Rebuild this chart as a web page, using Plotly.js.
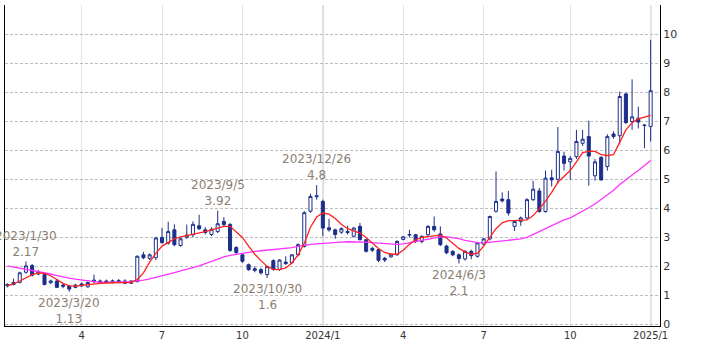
<!DOCTYPE html>
<html>
<head>
<meta charset="utf-8">
<script src="https://cdn.plot.ly/plotly-3.0.1.min.js"></script>
<style>html,body{margin:0;padding:0;background:#fff;}#chart{width:709px;height:354px;}</style>
</head>
<body>
<div id="chart"></div>
<script>
const dates = ["2023-01-09","2023-01-16","2023-01-23","2023-01-30","2023-02-06","2023-02-13","2023-02-20","2023-02-27","2023-03-06","2023-03-13","2023-03-20","2023-03-27","2023-04-03","2023-04-10","2023-04-17","2023-04-24","2023-05-01","2023-05-08","2023-05-15","2023-05-22","2023-05-29","2023-06-05","2023-06-12","2023-06-19","2023-06-26","2023-07-03","2023-07-10","2023-07-17","2023-07-24","2023-07-31","2023-08-07","2023-08-14","2023-08-21","2023-08-28","2023-09-04","2023-09-11","2023-09-18","2023-09-25","2023-10-02","2023-10-09","2023-10-16","2023-10-23","2023-10-30","2023-11-06","2023-11-13","2023-11-20","2023-11-27","2023-12-04","2023-12-11","2023-12-18","2023-12-25",
"2024-01-01","2024-01-08","2024-01-15","2024-01-22","2024-01-29","2024-02-05","2024-02-12","2024-02-19","2024-02-26","2024-03-04","2024-03-11","2024-03-18","2024-03-25","2024-04-01","2024-04-08","2024-04-15","2024-04-22","2024-04-29","2024-05-06","2024-05-13","2024-05-20","2024-05-27","2024-06-03","2024-06-10","2024-06-17","2024-06-24","2024-07-01","2024-07-08","2024-07-15","2024-07-22","2024-07-29","2024-08-05","2024-08-12","2024-08-19","2024-08-26","2024-09-02","2024-09-09","2024-09-16","2024-09-23","2024-09-30","2024-10-07","2024-10-14","2024-10-21","2024-10-28","2024-11-04","2024-11-11","2024-11-18","2024-11-25","2024-12-02","2024-12-09","2024-12-16","2024-12-23","2024-12-30","2025-01-06"];

const openP = [1.33,1.38,1.45,1.80,2.03,1.74,1.72,1.44,1.50,1.36,1.33,1.28,1.40,1.30,1.47,1.45,1.50,1.46,1.47,1.50,1.42,1.48,2.40,2.28,2.30,3.00,2.80,3.26,2.72,3.00,3.09,3.40,3.26,3.10,3.20,3.55,3.44,2.65,2.40,2.06,1.92,1.89,1.72,2.20,1.90,2.15,2.13,2.40,2.69,3.90,4.40,
4.24,3.33,3.26,3.18,3.20,3.04,3.38,2.92,2.62,2.58,2.28,2.33,2.40,2.93,3.08,3.09,2.86,3.09,3.38,3.12,2.70,2.52,2.40,2.26,2.52,2.35,2.77,2.95,3.90,4.32,4.30,3.38,3.55,3.67,4.30,4.60,3.89,5.05,5.00,5.80,5.60,5.78,6.24,6.47,5.12,5.75,5.44,6.56,6.50,7.94,6.99,7.10,6.87,6.82];

const highP = [1.42,1.58,1.82,2.17,2.08,1.88,1.78,1.55,1.55,1.40,1.36,1.40,1.45,1.48,1.72,1.55,1.55,1.55,1.57,1.56,1.52,2.38,2.50,2.45,3.02,3.33,3.54,3.45,3.00,3.44,3.55,3.78,3.35,3.35,3.92,3.70,3.50,2.70,2.45,2.10,2.00,1.95,2.02,2.25,2.25,2.35,2.42,2.80,3.90,4.50,4.80,
4.30,3.64,3.30,3.35,3.40,3.36,3.50,2.95,2.68,2.60,2.33,2.45,2.90,3.05,3.26,3.12,3.06,3.42,3.72,3.38,2.75,2.56,2.45,2.56,2.58,2.85,2.98,3.75,5.27,4.55,4.60,3.60,3.72,4.35,4.95,4.70,5.30,5.33,6.80,5.95,5.80,6.70,6.70,7.02,5.70,5.80,6.55,6.65,8.02,7.98,8.44,7.50,6.90,9.80];

const lowP = [1.28,1.35,1.42,1.75,1.65,1.70,1.35,1.40,1.26,1.25,1.13,1.25,1.30,1.27,1.42,1.40,1.42,1.42,1.43,1.40,1.40,1.45,2.25,2.22,2.22,2.78,2.75,2.70,2.68,2.95,3.00,3.25,3.10,3.05,3.15,3.35,2.50,2.42,2.12,1.85,1.80,1.72,1.60,1.85,1.85,2.05,2.10,2.35,2.65,3.85,4.30,
3.04,3.20,2.95,3.12,3.10,3.00,2.90,2.48,2.50,2.15,2.15,2.30,2.38,2.90,3.00,2.80,2.80,3.05,3.20,2.70,2.42,2.35,2.10,2.20,2.25,2.30,2.73,2.90,3.85,4.20,3.75,3.22,3.40,3.62,4.25,3.85,3.85,4.75,4.85,5.30,4.98,5.70,6.15,4.78,4.95,4.95,5.30,6.40,6.20,6.90,6.70,6.75,6.07,6.30];

const closeP = [1.38,1.45,1.78,2.02,1.70,1.82,1.38,1.50,1.28,1.32,1.22,1.36,1.33,1.45,1.53,1.50,1.46,1.50,1.51,1.42,1.50,2.35,2.30,2.40,2.98,2.82,3.20,2.75,2.95,3.08,3.45,3.30,3.17,3.28,3.47,3.44,2.55,2.48,2.18,1.89,1.87,1.78,2.00,1.90,2.22,2.10,2.40,2.75,3.85,4.41,4.43,
3.32,3.26,3.10,3.30,3.17,3.32,2.92,2.52,2.56,2.21,2.22,2.42,2.86,3.02,3.10,2.86,3.04,3.38,3.26,2.75,2.47,2.40,2.27,2.52,2.37,2.81,2.95,3.72,4.24,4.26,3.84,3.55,3.67,4.30,4.66,3.89,5.04,4.98,5.96,5.55,5.72,6.30,6.38,5.80,5.60,4.98,6.47,6.47,7.85,6.95,7.15,6.97,6.85,8.05];

const ma13 = [1.33,1.40,1.50,1.62,1.72,1.78,1.76,1.68,1.55,1.42,1.33,1.32,1.35,1.38,1.40,1.42,1.43,1.44,1.44,1.44,1.45,1.55,1.78,2.15,2.45,2.70,2.84,2.95,3.02,3.06,3.10,3.16,3.20,3.26,3.32,3.38,3.38,3.20,3.00,2.70,2.42,2.20,2.00,1.90,1.89,1.95,2.12,2.40,2.80,3.35,3.70,
3.84,3.80,3.65,3.45,3.30,3.22,3.15,3.00,2.80,2.62,2.48,2.42,2.42,2.56,2.76,2.92,3.00,3.02,3.06,3.08,2.98,2.80,2.62,2.50,2.42,2.45,2.70,3.00,3.30,3.50,3.58,3.58,3.58,3.60,3.75,3.98,4.25,4.55,4.90,5.10,5.30,5.60,5.92,5.96,5.96,5.85,5.82,5.85,6.25,6.70,6.95,7.08,7.14,7.20];

const ma26 = [2.02,1.98,1.94,1.91,1.88,1.84,1.79,1.74,1.68,1.63,1.60,1.56,1.53,1.50,1.47,1.45,1.45,1.45,1.46,1.47,1.48,1.50,1.53,1.57,1.62,1.68,1.74,1.79,1.85,1.90,1.95,2.02,2.10,2.18,2.25,2.33,2.38,2.42,2.46,2.50,2.52,2.54,2.56,2.58,2.60,2.62,2.65,2.69,2.73,2.76,2.78,
2.80,2.82,2.83,2.84,2.85,2.85,2.85,2.84,2.82,2.80,2.78,2.76,2.76,2.78,2.82,2.87,2.92,2.96,2.99,3.02,3.02,3.00,2.96,2.90,2.85,2.82,2.81,2.83,2.86,2.88,2.90,2.92,2.95,3.00,3.10,3.22,3.32,3.42,3.52,3.60,3.67,3.78,3.90,4.02,4.15,4.30,4.45,4.62,4.82,5.00,5.15,5.30,5.48,5.65];

const tickDates = ["2023-04-03","2023-07-03","2023-10-02","2024-01-01","2024-04-01","2024-07-01","2024-10-07","2025-01-06"];
const tickLabels = ["4","7","10","2024/1","4","7","10","2025/1"];
const yearLineDates = ["2024-01-01","2025-01-06"];
const yTicks = [0,1,2,3,4,5,6,7,8,9,10];

const annDates = ["2023-01-30","2023-03-20","2023-09-04","2023-10-30","2023-12-25","2024-06-03"];
const annLabels = ["2023/1/30","2023/3/20","2023/9/5","2023/10/30","2023/12/26","2024/6/3"];
const annValues = [2.17,1.13,3.92,1.6,4.8,2.1];
const annSide = ["above","below","above","below","above","below"];

const navy = '#1c2f8a';
const traces = [
  {type:'candlestick', x:dates, open:openP, high:highP, low:lowP, close:closeP,
   increasing:{line:{color:navy,width:1}, fillcolor:'#ffffff'},
   decreasing:{line:{color:navy,width:1}, fillcolor:navy},
   whiskerwidth:0, hoverinfo:'skip', showlegend:false},
  {type:'scatter', mode:'lines', x:dates, y:ma26, line:{color:'#ff33ff', width:1.3}, hoverinfo:'skip', showlegend:false},
  {type:'scatter', mode:'lines', x:dates, y:ma13, line:{color:'#ff2020', width:1.3}, hoverinfo:'skip', showlegend:false}
];

const annotations = annDates.map((d,i)=>({
  x:d, y:annValues[i], xref:'x', yref:'y',
  text: annLabels[i] + '<br>' + annValues[i],
  showarrow:false,
  yanchor: annSide[i]==='above' ? 'bottom' : 'top',
  yshift: annSide[i]==='above' ? 1 : -2,
  font:{family:'DejaVu Sans, Verdana, sans-serif', size:12, color:'#8a7e72'}
}));

const shapes = yearLineDates.map(d=>({
  type:'line', xref:'x', yref:'paper', x0:d, x1:d, y0:0, y1:1,
  line:{color:'#c4c4c4', width:1.5}, layer:'below'
}));

const layout = {
  width:709, height:354,
  margin:{l:5, r:49, t:5, b:28},
  paper_bgcolor:'#ffffff', plot_bgcolor:'#ffffff',
  showlegend:false,
  xaxis:{type:'date', range:['2023-01-06 07:00','2025-01-16 14:00'],
    rangeslider:{visible:false}, tickvals:tickDates, ticktext:tickLabels,
    showgrid:true, gridcolor:'#e4e4e4', gridwidth:1,
    showline:true, linecolor:'#000000', linewidth:1, ticks:'',
    tickfont:{family:'DejaVu Sans, Verdana, sans-serif', size:10, color:'#333333'},
    fixedrange:true},
  yaxis:{side:'right', range:[-0.05, 11.0], tickvals:yTicks,
    showgrid:true, gridcolor:'#bdbdbd', griddash:'3px,2px', gridwidth:1,
    showline:true, mirror:true, linecolor:'#000000', linewidth:1,
    zeroline:false, ticks:'',
    tickfont:{family:'DejaVu Sans, Verdana, sans-serif', size:11, color:'#333333'},
    fixedrange:true},
  annotations:annotations,
  shapes:shapes
};

Plotly.newPlot('chart', traces, layout, {staticPlot:true, displayModeBar:false});
</script>
</body>
</html>
